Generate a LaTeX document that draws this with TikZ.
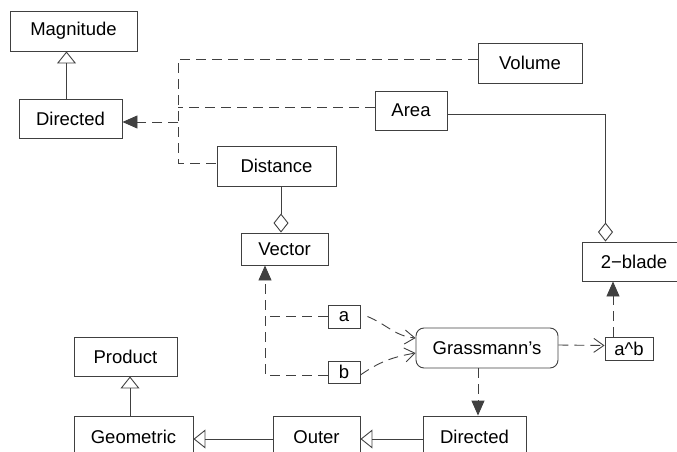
\documentclass[tikz,border=0pt]{standalone}
\usepackage{fontspec}
\setmainfont{Liberation Sans}
\usetikzlibrary{arrows.meta,calc}
\tikzset{
  box/.style={draw, inner sep=0pt, minimum height=39pt},
  dep/.style={dash pattern=on 10pt off 6pt},
  gen/.style={-{Triangle[open,length=12pt,width=19pt]}},
  agg/.style={-{Diamond[open,length=19pt,width=15pt]}},
  real/.style={dep, -{Triangle[length=15pt,width=13pt]}},
  use/.style={dep, -{Straight Barb[length=10pt,width=14pt]}}
}
\begin{document}
\begin{tikzpicture}[x=1pt, y=-1pt, line width=0.9pt, black!75, font=\fontsize{18.5}{21}\selectfont, text=black]
    \useasboundingbox (0,0) rectangle (677,452);
    \node[box, minimum width=127pt, minimum height=40pt] (mag) at (73.5,31) {Magnitude};
    \node[box, minimum width=103pt] (dirA) at (70.5,118.5) {Directed};
    \node[box, minimum width=119pt, minimum height=40pt] (dist) at (276.5,166) {Distance};
    \node[box, minimum width=104pt, minimum height=40pt] (vol) at (530,63) {Volume};
    \node[box, minimum width=72pt] (area) at (411,110.5) {Area};
    \node[box, minimum width=87pt, minimum height=32pt] (vec) at (284.5,249) {Vector};
    \node[box, minimum width=104pt] (blade) at (634,261.5) {2−blade};
    \node[box, minimum width=32pt, minimum height=23pt] (a) at (344,316.5) {a};
    \node[box, minimum width=32pt, minimum height=22pt] (b) at (344,372) {b};
    \node[box, minimum width=142pt, minimum height=40pt, rounded corners=8pt] (gr) at (487,348) {Grassmann's};
    \node[box, minimum width=48pt, minimum height=23pt] (ab) at (629,348.5) {a\^{}b};
    \node[box, minimum width=103pt] (prod) at (125.5,356.5) {Product};
    \node[box, minimum width=119pt, minimum height=42pt] (geo) at (133.5,437) {Geometric};
    \node[box, minimum width=87pt, minimum height=42pt] (outer) at (316.5,437) {Outer};
    \node[box, minimum width=103pt, minimum height=42pt] (dirB) at (474.5,437) {Directed};

    \coordinate (j) at (178,122);
    \draw[gen] ([xshift=-4pt]dirA.north) -- ([xshift=-4pt]dirA.north |- mag.south);
    \draw[dep] ([yshift=4pt]vol.west) -| (j) |- ([yshift=3pt]dist.west);
    \draw[dep] ([yshift=3pt]area.west) -- ([yshift=3pt]area.west -| j);
    \draw[real] (j) -- ([yshift=-3.5pt]dirA.east);
    \draw[agg] ([xshift=4.5pt]dist.south) -- ([xshift=-3.5pt]vec.north);
    \draw[agg] ([yshift=-3.5pt]area.east) -| ([xshift=-28.5pt]blade.north);

    \coordinate (vj) at ([xshift=-19.5pt]vec.south);
    \draw[real] ([yshift=-3pt]b.west) -| (vj);
    \draw[dep] (a.west) -- (a.west -| vj);
    \draw[use] ([xshift=7pt]a.east) to[out=-22,in=175] ([yshift=10pt]gr.west);
    \draw[use] ([yshift=-3pt]b.east) to[out=35,in=190] ([yshift=-5pt]gr.west);
    \draw[use] ([yshift=3pt]gr.east) -- ([yshift=3pt]ab.west);
    \draw[real] ([xshift=-16pt]ab.north) -- ([xshift=-16pt]ab.north |- blade.south);
    \draw[real] ([xshift=3.5pt]dirB.north |- gr.south) -- ([xshift=3.5pt]dirB.north);

    \draw[gen] ([xshift=-3.5pt]geo.north) -- ([xshift=-3.5pt]geo.north |- prod.south);
    \draw[gen] ([yshift=-2pt]dirB.west) -- ([yshift=-2pt]outer.east);
    \draw[gen] ([yshift=-2pt]outer.west) -- ([yshift=-2pt]geo.east);
\end{tikzpicture}
\end{document}
